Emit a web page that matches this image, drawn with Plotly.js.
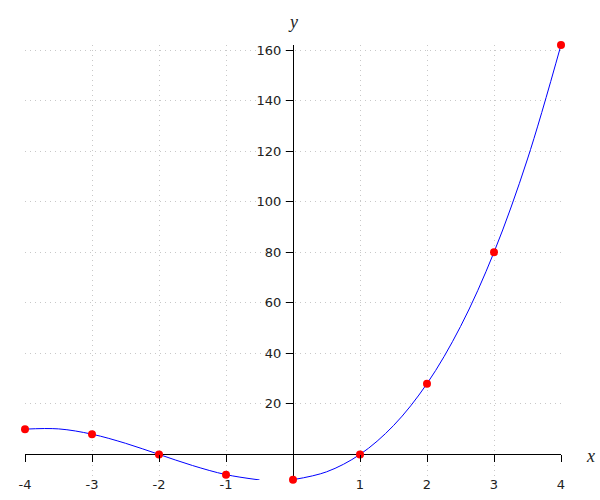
<!DOCTYPE html>
<html>
<head>
<meta charset="utf-8">
<script src="https://cdn.plot.ly/plotly-3.0.1.min.js"></script>
<style>html,body{margin:0;padding:0;background:#fff;}#chart{width:600px;height:500px;}</style>
</head>
<body>
<div id="chart"></div>
<script>
// Sample points (red dots)
const pointX = [-4, -3, -2, -1, 0, 1, 2, 3, 4];
const pointY = [10, 8, 0, -8, -10, 0, 28, 80, 162];

// Blue curve, left piece
const curveLeftX = [-4, -3.5, -3, -2.5, -2, -1.5, -1, -0.5];
const curveLeftY = [10, 10.1, 8, 4.4, 0, -4.4, -8, -10.1];

// Blue curve, right piece
const curveRightX = [0, 0.5, 1, 1.5, 2, 2.5, 3, 3.5, 4];
const curveRightY = [-10, -6.9, 0, 11.4, 28, 50.6, 80, 116.9, 162];

// Tick labels
const xTicks = [-4, -3, -2, -1, 1, 2, 3, 4];
const xGrid = [-4, -3, -2, -1, 0, 1, 2, 3, 4];
const yTicks = [20, 40, 60, 80, 100, 120, 140, 160];

const yMin = -10.125, yMax = 162;
const xMin = -4, xMax = 4;

const traces = [
  {x: [xMin], y: [0], xaxis: 'x2', yaxis: 'y', mode: 'markers', marker: {opacity: 0}, hoverinfo: 'skip'},
  {x: curveLeftX, y: curveLeftY, mode: 'lines', line: {color: '#0000ff', width: 1, shape: 'spline'}, hoverinfo: 'skip'},
  {x: curveRightX, y: curveRightY, mode: 'lines', line: {color: '#0000ff', width: 1, shape: 'spline'}, hoverinfo: 'skip'},
  {x: pointX, y: pointY, mode: 'markers', marker: {color: '#ff0000', size: 8}, cliponaxis: false}
];

const tickFont = {family: 'DejaVu Sans, sans-serif', size: 13, color: '#222'};
const gridColor = '#c8c8c8';
const gridDash = '1px,4px';

const layout = {
  width: 600, height: 500,
  margin: {l: 25, r: 39, t: 45, b: 20},
  paper_bgcolor: '#fff', plot_bgcolor: '#fff',
  showlegend: false,
  xaxis: {
    range: [xMin, xMax], domain: [0, 1],
    anchor: 'free', position: (0 - yMin) / (yMax - yMin),
    tickvals: xTicks, ticktext: xTicks.map(String),
    ticks: 'outside', ticklen: 7, tickcolor: '#000', tickwidth: 1,
    tickfont: tickFont, ticklabelstandoff: 11,
    showline: false, showgrid: false,
    zeroline: true, zerolinecolor: '#000', zerolinewidth: 1
  },
  xaxis2: {
    range: [xMin, xMax], overlaying: 'x', anchor: 'y',
    tickvals: xGrid, showticklabels: false, ticks: '',
    showgrid: true, gridcolor: gridColor, griddash: gridDash, gridwidth: 1,
    zeroline: false, showline: false
  },
  yaxis: {
    range: [yMin, yMax], domain: [0, 1],
    anchor: 'free', position: (0 - xMin) / (xMax - xMin),
    tickvals: yTicks, ticktext: yTicks.map(String),
    ticks: 'outside', ticklen: 7, tickcolor: '#000', tickwidth: 1,
    tickfont: tickFont, ticklabelstandoff: 2,
    showline: false,
    showgrid: true, gridcolor: gridColor, griddash: gridDash, gridwidth: 1,
    zeroline: true, zerolinecolor: '#000', zerolinewidth: 1
  },
  annotations: [
    {text: 'y', xref: 'x', x: 0, yref: 'paper', y: 1, yanchor: 'middle', yshift: 23, showarrow: false,
     font: {family: 'Liberation Serif, serif', size: 18, color: '#222', style: 'italic'}},
    {text: 'x', xref: 'paper', x: 1, xanchor: 'center', xshift: 29, yref: 'y', y: 0, yanchor: 'middle', yshift: -2, showarrow: false,
     font: {family: 'Liberation Serif, serif', size: 18, color: '#222', style: 'italic'}}
  ]
};

Plotly.newPlot('chart', traces, layout, {displayModeBar: false, staticPlot: true});
</script>
</body>
</html>
